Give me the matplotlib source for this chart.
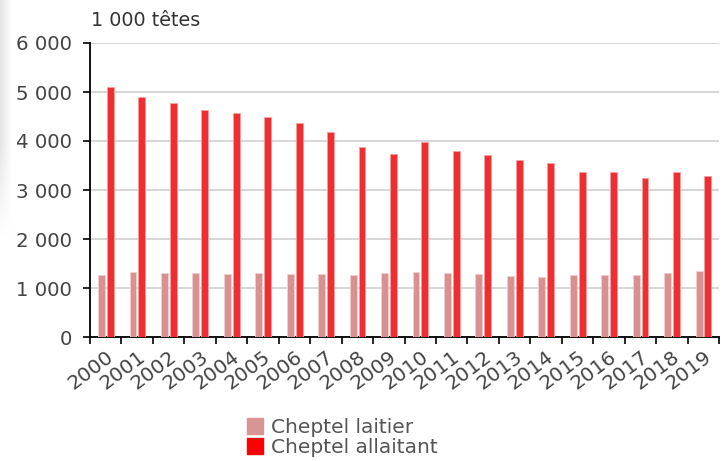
import matplotlib
matplotlib.use("Agg")
import matplotlib.pyplot as plt
import numpy as np
from matplotlib.patches import Patch
from matplotlib.ticker import FuncFormatter

years = [str(y) for y in range(2000, 2020)]
laitier = [1270, 1320, 1306, 1300, 1293, 1300, 1286, 1286, 1265, 1300,
           1320, 1300, 1286, 1238, 1231, 1265, 1272, 1272, 1300, 1347]
allaitant = [5100, 4890, 4770, 4625, 4570, 4495, 4360, 4190, 3885, 3735,
             3973, 3802, 3708, 3605, 3558, 3374, 3361, 3245, 3374, 3292]

plt.rcParams['font.family'] = ['DejaVu Sans']
txt = '#444444'

fig = plt.figure(figsize=(7.27, 4.61), dpi=100)

# subtle left-edge shadow
sh = fig.add_axes([0, 1-240/461, 12/727, 240/461])
grad = np.linspace(0.9, 1.0, 50)[None, :]
vert = np.concatenate([np.ones(60), np.linspace(1, 0, 40)])[:, None]
img = 1 - (1 - grad) * vert
sh.imshow(np.dstack([img, img, img]), aspect='auto', extent=[0, 1, 0, 1])
sh.axis('off')

ax = fig.add_axes([90/727, 1-337/461, (719-90)/727, (337-43)/461])

x = np.arange(len(years))
w = 0.22
ax.bar(x + 0.366, laitier, width=w, color='#d99090', edgecolor='#f2d0d0', linewidth=0.6, zorder=3)
ax.bar(x + 0.648, allaitant, width=w, color='#ee2e31', edgecolor='#f7a0a0', linewidth=0.6, zorder=3)

ax.set_xlim(0, len(years))
ax.set_ylim(0, 6000)
ax.set_yticks(range(0, 6001, 1000))
ax.yaxis.set_major_formatter(FuncFormatter(lambda v, p: f"{int(v):,}".replace(",", " ")))
ax.set_xticks(np.arange(len(years) + 1))
ax.set_xticklabels([])
ax.set_xticks(x + 0.5, minor=True)
ax.set_xticklabels(years, minor=True, rotation=37, ha='right', rotation_mode='anchor',
                   fontsize=14.5, color=txt)
ax.tick_params(axis='x', which='minor', length=0, pad=7)
ax.tick_params(axis='x', which='major', length=5, width=1.2, color='black', direction='out')
ax.tick_params(axis='y', length=5, width=1.2, color='black', labelsize=14.2, labelcolor=txt, pad=8)

ax.grid(axis='y', color='#d0d0d0', linewidth=1.2, zorder=0)
for s in ['top', 'right']:
    ax.spines[s].set_visible(False)
for s in ['left', 'bottom']:
    ax.spines[s].set_color('black')
    ax.spines[s].set_linewidth(1.3)

fig.text(91/727, 1-21/461, '1 000 têtes', fontsize=13.8, color='#333333', va='center', ha='left')

handles = [Patch(color='#d99494', label='Cheptel laitier'),
           Patch(color='#ff0000', label='Cheptel allaitant')]
fig.legend(handles=handles, loc='upper left', bbox_to_anchor=(245/727, 1-416/461),
           frameon=False, fontsize=14.5, handlelength=0.8, handleheight=0.8,
           handletextpad=0.4, labelspacing=0.05, borderaxespad=0, borderpad=0.1,
           labelcolor='#555555')

fig.savefig('out.png', dpi=100)
